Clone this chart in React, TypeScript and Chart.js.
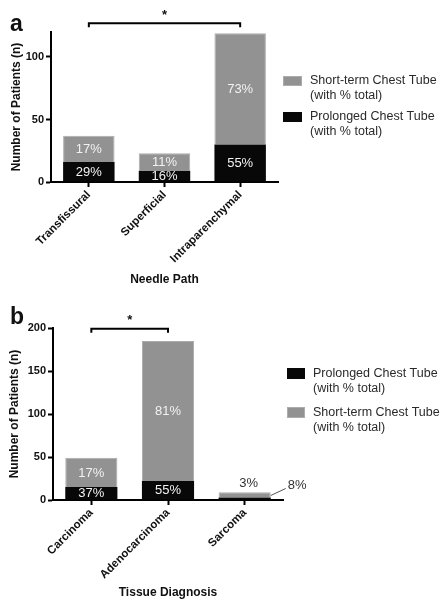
import React, { useEffect, useRef } from 'react';
import { Chart, registerables } from 'chart.js';

Chart.register(...registerables);

// ---------- data ----------
const categoriesA = ['Transfissural', 'Superficial', 'Intraparenchymal'];
const prolongedA = [16, 9, 30];
const shortTermA = [21, 14, 89];
const prolongedPctA = ['29%', '16%', '55%'];
const shortTermPctA = ['17%', '11%', '73%'];
const yTicksA = [0, 50, 100];
const bracketPairA = [0, 2];

const categoriesB = ['Carcinoma', 'Adenocarcinoma', 'Sarcoma'];
const prolongedB = [15, 22, 3];
const shortTermB = [34, 163, 6];
const prolongedPctB = ['37%', '55%', '8%'];
const shortTermPctB = ['17%', '81%', '3%'];
const yTicksB = [0, 50, 100, 150, 200];
const bracketPairB = [0, 1];

const FONT = 'Arial, "Liberation Sans", Helvetica, sans-serif';
const GRAY = '#929292';
const GRAY_EDGE = '#acacac';
const BLACK = '#080808';

type Spec = {
  letter: string;
  cats: string[];
  prolonged: number[];
  shortTerm: number[];
  prolongedPct: string[];
  shortTermPct: string[];
  yTicks: number[];
  yMax: number;
  bracket: number[];
  bracketValue: number;
  xTitle: string;
  legendOrder: ('short' | 'prolonged')[];
  height: number;
  top: number;
  area: { left: number; right: number; top: number; bottom: number };
  legend: { x: number; y: number; gap: number; w: number; h: number; tx: number };
  letterY: number;
  yTitleX: number;
  xTitleY: number;
};

const W = 448;

function Panel({ spec }: { spec: Spec }) {
  const ref = useRef<HTMLCanvasElement | null>(null);

  useEffect(() => {
    const canvas = ref.current;
    if (!canvas) return;
    const s = spec;

    const overlay = {
      id: 'overlay_' + s.letter,
      afterDraw(chart: any) {
        const ctx = chart.ctx as CanvasRenderingContext2D;
        const ca = chart.chartArea;
        const xs = chart.scales.x;
        const ys = chart.scales.y;
        ctx.save();

        // panel letter
        ctx.fillStyle = '#111';
        ctx.font = `bold 23px ${FONT}`;
        ctx.textAlign = 'left';
        ctx.textBaseline = 'alphabetic';
        ctx.fillText(s.letter, 10, s.letterY);

        // y title
        ctx.save();
        ctx.translate(s.yTitleX, (ca.top + ca.bottom) / 2);
        ctx.rotate(-Math.PI / 2);
        ctx.font = `bold 12px ${FONT}`;
        ctx.textAlign = 'center';
        ctx.textBaseline = 'middle';
        ctx.fillStyle = '#111';
        ctx.fillText('Number of Patients (n)', 0, 0);
        ctx.restore();

        // x title
        ctx.font = `bold 12px ${FONT}`;
        ctx.textAlign = 'center';
        ctx.textBaseline = 'middle';
        ctx.fillStyle = '#111';
        ctx.fillText(s.xTitle, (ca.left + ca.right) / 2, s.xTitleY);

        // bracket
        const bx1 = xs.getPixelForValue(s.bracket[0]);
        const bx2 = xs.getPixelForValue(s.bracket[1]);
        const by = ys.getPixelForValue(s.bracketValue);
        ctx.strokeStyle = '#000';
        ctx.lineWidth = 2;
        ctx.beginPath();
        ctx.moveTo(bx1, by + 4);
        ctx.lineTo(bx1, by);
        ctx.lineTo(bx2, by);
        ctx.lineTo(bx2, by + 4);
        ctx.stroke();
        ctx.font = `bold 13px ${FONT}`;
        ctx.fillStyle = '#111';
        ctx.textAlign = 'center';
        ctx.textBaseline = 'middle';
        ctx.fillText('*', (bx1 + bx2) / 2, by - 8);

        // bar labels
        const metaP = chart.getDatasetMeta(0);
        const metaS = chart.getDatasetMeta(1);
        const drawLabel = (el: any, txt: string, which: 'short' | 'prolonged') => {
          const top = Math.min(el.y, el.base);
          const bot = Math.max(el.y, el.base);
          const h = bot - top;
          ctx.font = `13px ${FONT}`;
          ctx.textBaseline = 'middle';
          if (h >= 8) {
            ctx.fillStyle = '#f2f2f2';
            ctx.textAlign = 'center';
            ctx.fillText(txt, el.x, (top + bot) / 2 + 0.5);
          } else if (which === 'short') {
            ctx.fillStyle = '#333';
            ctx.textAlign = 'center';
            ctx.fillText(txt, el.x + 4, top - 9);
          } else {
            const right = el.x + el.width / 2;
            const sy = bot - 4;
            ctx.strokeStyle = '#555';
            ctx.lineWidth = 1;
            ctx.beginPath();
            ctx.moveTo(right, sy);
            ctx.lineTo(right + 15, sy - 7);
            ctx.stroke();
            ctx.fillStyle = '#333';
            ctx.textAlign = 'left';
            ctx.fillText(txt, right + 17, sy - 10);
          }
        };
        metaP.data.forEach((el: any, i: number) => drawLabel(el, s.prolongedPct[i], 'prolonged'));
        metaS.data.forEach((el: any, i: number) => drawLabel(el, s.shortTermPct[i], 'short'));

        // legend
        const L = s.legend;
        s.legendOrder.forEach((k, i) => {
          const y0 = L.y + i * L.gap;
          ctx.fillStyle = k === 'short' ? GRAY : BLACK;
          ctx.fillRect(L.x, y0, L.w, L.h);
          if (k === 'short') {
            ctx.strokeStyle = GRAY_EDGE;
            ctx.lineWidth = 1;
            ctx.strokeRect(L.x + 0.5, y0 + 0.5, L.w - 1, L.h - 1);
          }
          ctx.fillStyle = '#2a2a2a';
          ctx.font = `12.5px ${FONT}`;
          ctx.textAlign = 'left';
          ctx.textBaseline = 'middle';
          const cy = y0 + L.h / 2;
          ctx.fillText(k === 'short' ? 'Short-term Chest Tube' : 'Prolonged Chest Tube', L.x + L.tx, cy);
          ctx.fillText('(with % total)', L.x + L.tx, cy + 15);
        });

        ctx.restore();
      },
    };

    const tickFont = { family: FONT, size: 11.5, weight: 'bold' as const };
    const chart = new Chart(canvas, {
      type: 'bar',
      data: {
        labels: s.cats,
        datasets: [
          {
            label: 'Prolonged Chest Tube',
            data: s.prolonged,
            backgroundColor: BLACK,
            borderWidth: 0,
            barPercentage: 0.68,
            categoryPercentage: 1,
          },
          {
            label: 'Short-term Chest Tube',
            data: s.shortTerm,
            backgroundColor: GRAY,
            borderColor: GRAY_EDGE,
            borderWidth: 1,
            barPercentage: 0.68,
            categoryPercentage: 1,
          },
        ],
      },
      options: {
        responsive: false,
        animation: false,
        devicePixelRatio: 1,
        layout: {
          padding: { left: 0, top: s.area.top, right: W - s.area.right, bottom: 0 },
        },
        plugins: {
          legend: { display: false },
          tooltip: { enabled: false },
        },
        scales: {
          x: {
            stacked: true,
            grid: {
              display: true,
              drawOnChartArea: false,
              offset: false,
              tickLength: 5,
              tickWidth: 2,
              tickColor: '#000',
            },
            border: { display: true, color: '#000', width: 2 },
            ticks: {
              minRotation: 45,
              maxRotation: 45,
              autoSkip: false,
              font: tickFont,
              color: '#111',
              padding: 1,
            },
            afterFit: (sc: any) => {
              sc.height = s.height - s.area.bottom;
            },
          },
          y: {
            stacked: true,
            min: 0,
            max: s.yMax,
            afterBuildTicks: (sc: any) => {
              sc.ticks = s.yTicks.map((v) => ({ value: v }));
            },
            grid: {
              display: true,
              drawOnChartArea: false,
              tickLength: 5,
              tickWidth: 2,
              tickColor: '#000',
            },
            border: { display: true, color: '#000', width: 2 },
            ticks: {
              font: { family: FONT, size: 11, weight: 'bold' as const },
              color: '#111',
              padding: 2,
            },
            afterFit: (sc: any) => {
              sc.width = s.area.left;
            },
          },
        },
      },
      plugins: [overlay],
    } as any);

    return () => chart.destroy();
  }, [spec]);

  return (
    <canvas
      ref={ref}
      width={W}
      height={spec.height}
      style={{ position: 'absolute', left: 0, top: spec.top, width: W, height: spec.height, display: 'block' }}
    />
  );
}

const specA: Spec = {
  letter: 'a',
  cats: categoriesA,
  prolonged: prolongedA,
  shortTerm: shortTermA,
  prolongedPct: prolongedPctA,
  shortTermPct: shortTermPctA,
  yTicks: yTicksA,
  yMax: 120,
  bracket: bracketPairA,
  bracketValue: 127,
  xTitle: 'Needle Path',
  legendOrder: ['short', 'prolonged'],
  height: 300,
  top: 0,
  area: { left: 51, right: 278, top: 32, bottom: 182 },
  legend: { x: 283, y: 76, gap: 36, w: 19, h: 10, tx: 27 },
  letterY: 31,
  yTitleX: 17,
  xTitleY: 280,
};

const specB: Spec = {
  letter: 'b',
  cats: categoriesB,
  prolonged: prolongedB,
  shortTerm: shortTermB,
  prolongedPct: prolongedPctB,
  shortTermPct: shortTermPctB,
  yTicks: yTicksB,
  yMax: 200,
  bracket: bracketPairB,
  bracketValue: 199,
  xTitle: 'Tissue Diagnosis',
  legendOrder: ['prolonged', 'short'],
  height: 310,
  top: 300,
  area: { left: 53, right: 283, top: 28, bottom: 200 },
  legend: { x: 287, y: 68, gap: 39, w: 18, h: 11, tx: 26 },
  letterY: 24,
  yTitleX: 15,
  xTitleY: 293,
};

export default function App() {
  return (
    <div style={{ position: 'absolute', left: 0, top: 0, width: W, height: 610, background: '#fff' }}>
      <Panel spec={specA} />
      <Panel spec={specB} />
    </div>
  );
}
